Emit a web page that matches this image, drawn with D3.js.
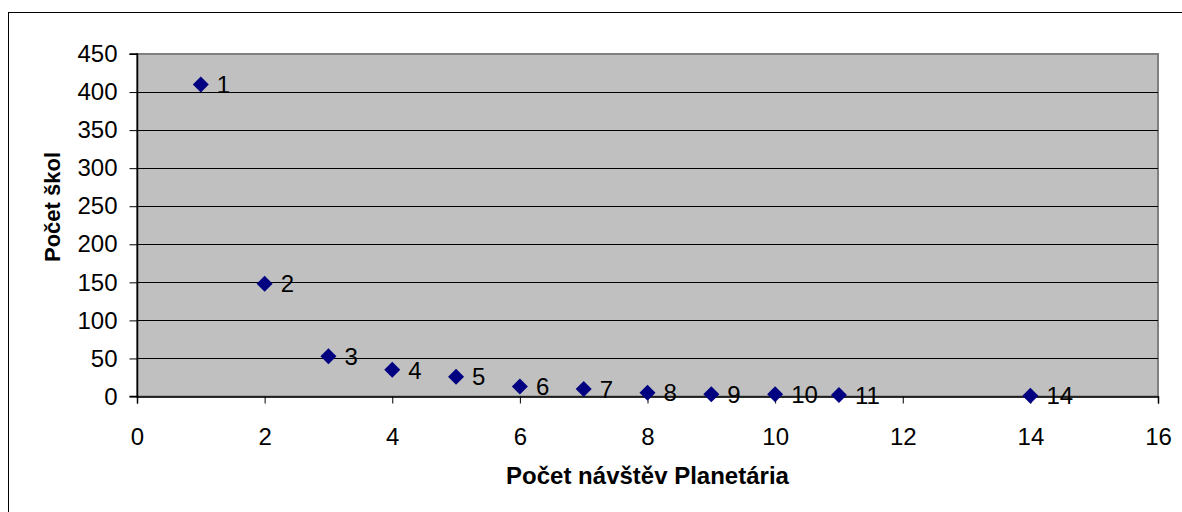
<!DOCTYPE html>
<html>
<head>
<meta charset="utf-8">
<script src="https://cdn.jsdelivr.net/npm/d3@7"></script>
<style>
  body { margin: 0; background: #fff; }
  svg { display: block; font-family: "Liberation Sans", Arial, sans-serif; }
</style>
</head>
<body>
<svg width="1182" height="512"></svg>
<script>
// number of visits to the planetarium vs. number of schools
const visits  = [1, 2, 3, 4, 5, 6, 7, 8, 9, 10, 11, 14]
const schools = [410, 148, 53, 35, 26, 13, 10, 5, 3, 3, 2, 1]
const xTicks  = [0, 2, 4, 6, 8, 10, 12, 14, 16]
const yTicks  = [0, 50, 100, 150, 200, 250, 300, 350, 400, 450]

const data = visits.map((v, i) => ({x: v, y: schools[i]}))

const svg = d3.select("svg"),
      plot = {left: 137, top: 54, right: 1158, bottom: 396.5},
      fontSize = "24px"

// outer chart frame (runs off the bottom/right of the picture)
svg.append("rect")
    .attr("x", 8.5).attr("y", 12.5)
    .attr("width", 1300).attr("height", 700)
    .attr("fill", "#fff")
    .attr("stroke", "#000")

const x = d3.scaleLinear().domain([0, 16]).range([plot.left, plot.right]),
      y = d3.scaleLinear().domain([0, 450]).range([plot.bottom, plot.top])

// plot area
svg.append("rect")
    .attr("x", plot.left).attr("y", plot.top)
    .attr("width", plot.right - plot.left)
    .attr("height", plot.bottom - plot.top)
    .attr("fill", "#c0c0c0")
    .attr("stroke", "#808080")
    .attr("stroke-width", 2)

// gridlines
svg.selectAll(".grid")
    .data(yTicks.filter(d => d > 0 && d < 450))
  .enter().append("line")
    .attr("x1", plot.left).attr("x2", plot.right)
    .attr("y1", d => Math.round(y(d)) + 0.5)
    .attr("y2", d => Math.round(y(d)) + 0.5)
    .style("stroke", "#000")

// axes
const yAxis = svg.append("g")
    .attr("transform", `translate(${plot.left + 0.5},0)`)
    .call(d3.axisLeft(y).tickValues(yTicks).tickSize(8).tickPadding(12))
const xAxis = svg.append("g")
    .attr("transform", `translate(0,${plot.bottom})`)
    .call(d3.axisBottom(x).tickValues(xTicks).tickSize(7).tickPadding(24))

;[yAxis, xAxis].forEach(g => {
  g.select(".domain").attr("stroke", "#000").attr("stroke-width", 1.5)
  g.selectAll(".tick line").attr("stroke", "#000")
  g.selectAll("text")
      .style("font-family", "Liberation Sans, Arial, sans-serif")
      .style("font-size", fontSize)
      .attr("fill", "#000")
})
yAxis.select(".domain").attr("d", `M-8,${plot.top}H0V${plot.bottom}H-8`)

// markers
svg.selectAll(".pt")
    .data(data)
  .enter().append("path")
    .attr("transform", d => `translate(${x(d.x)},${y(d.y)})`)
    .attr("d", "M0,-8L8,0L0,8L-8,0Z")
    .attr("fill", "#000080")

// data labels
svg.selectAll(".lbl")
    .data(data)
  .enter().append("text")
    .attr("x", d => x(d.x) + 16)
    .attr("y", d => y(d.y))
    .attr("dy", "0.36em")
    .style("font-size", fontSize)
    .text(d => d.x)

// axis titles
svg.append("text")
    .attr("x", (plot.left + plot.right) / 2)
    .attr("y", 484)
    .attr("text-anchor", "middle")
    .style("font-size", "24px")
    .style("font-weight", "bold")
    .text("Počet návštěv Planetária")

svg.append("text")
    .attr("transform", "translate(60,207) rotate(-90)")
    .attr("text-anchor", "middle")
    .style("font-size", "22px")
    .style("font-weight", "bold")
    .text("Počet škol")
</script>
</body>
</html>
